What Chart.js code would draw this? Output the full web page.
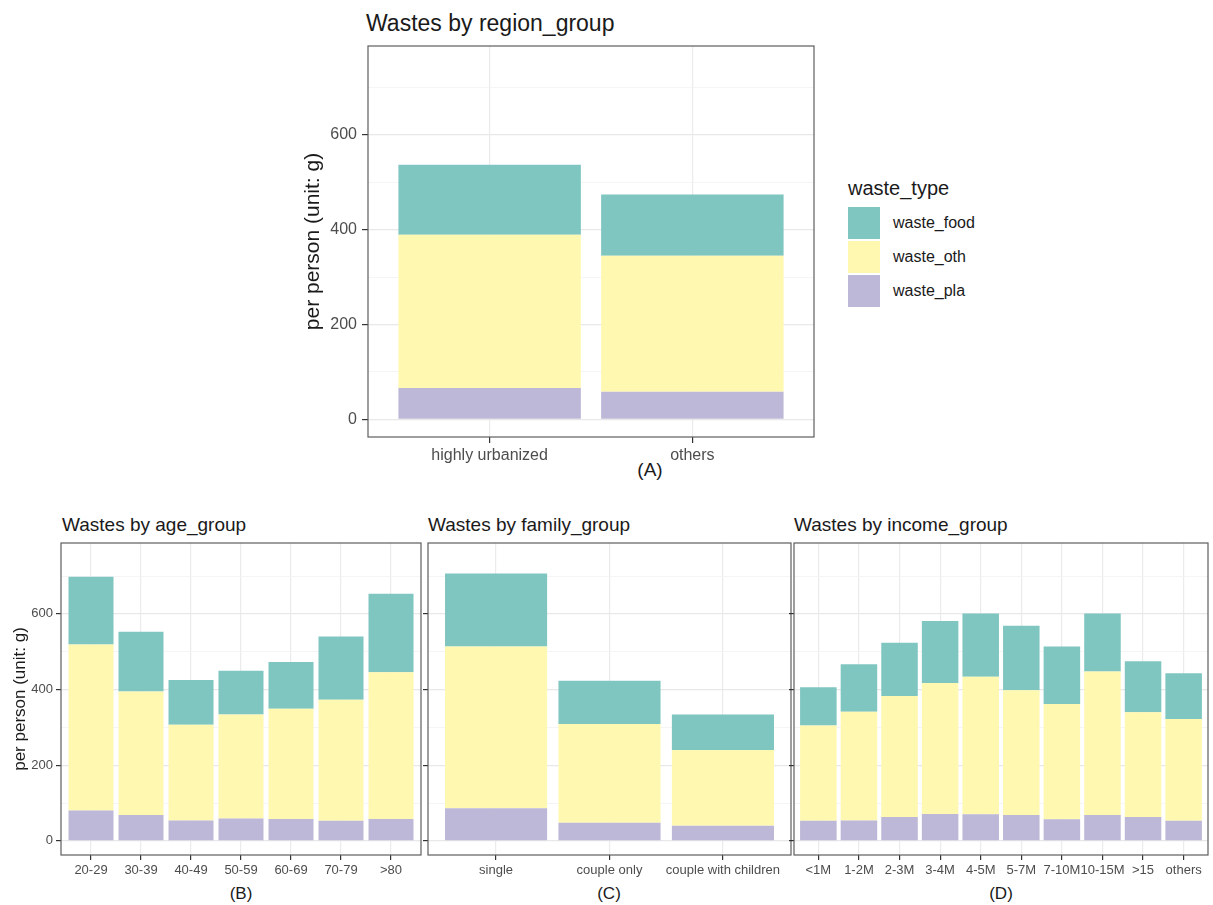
<!DOCTYPE html>
<html>
<head>
<meta charset="utf-8">
<title>Wastes by group</title>
<script src="https://cdn.jsdelivr.net/npm/chart.js@4.4.1/dist/chart.umd.min.js"></script>
<style>
  body { margin: 0; width: 1213px; height: 905px; background: #fff; position: relative; overflow: hidden;
         font-family: "Liberation Sans", Arial, sans-serif; color: #1a1a1a; }
  canvas { position: absolute; }
  .txt { position: absolute; line-height: 1; white-space: nowrap; transform: translateY(-50%); }
  .ctr { transform: translate(-50%, -50%); }
  .key { position: absolute; left: 848px; width: 32px; height: 32px; }
</style>
</head>
<body>
  <!-- titles -->
  <div class="txt" style="left:366px; top:23px; font-size:23px">Wastes by region_group</div>
  <div class="txt" style="left:62px; top:524px; font-size:19px">Wastes by age_group</div>
  <div class="txt" style="left:428px; top:524px; font-size:19px">Wastes by family_group</div>
  <div class="txt" style="left:794px; top:524px; font-size:19px">Wastes by income_group</div>

  <!-- panel letters -->
  <div class="txt ctr" style="left:650px; top:469px; font-size:19px">(A)</div>
  <div class="txt ctr" style="left:241px; top:893px; font-size:17px">(B)</div>
  <div class="txt ctr" style="left:609px; top:893px; font-size:17px">(C)</div>
  <div class="txt ctr" style="left:1001px; top:893px; font-size:17px">(D)</div>

  <!-- legend -->
  <div class="txt" style="left:848px; top:188px; font-size:20px">waste_type</div>
  <div class="key" id="keyFood" style="top:207px"></div>
  <div class="key" id="keyOth" style="top:241px"></div>
  <div class="key" id="keyPla" style="top:275px"></div>
  <div class="txt" style="left:893px; top:223px; font-size:16px">waste_food</div>
  <div class="txt" style="left:893px; top:257px; font-size:16px">waste_oth</div>
  <div class="txt" style="left:893px; top:291px; font-size:16px">waste_pla</div>

  <canvas id="chartA" style="left:290px; top:40px" width="540" height="440"></canvas>
  <canvas id="chartB" style="left:0px; top:536px" width="430" height="369"></canvas>
  <canvas id="chartC" style="left:420px; top:536px" width="380" height="369"></canvas>
  <canvas id="chartD" style="left:786px; top:536px" width="427" height="369"></canvas>

<script>
  // data (g per person)
  const regionGroups = ["highly urbanized", "others"];
  const regionPla  = [66, 58];
  const regionOth  = [323, 287];
  const regionFood = [148, 129];

  const ageGroups = ["20-29", "30-39", "40-49", "50-59", "60-69", "70-79", ">80"];
  const agePla  = [80, 68, 54, 59, 58, 53, 58];
  const ageOth  = [439, 327, 253, 275, 291, 320, 388];
  const ageFood = [179, 158, 118, 116, 124, 167, 207];

  const familyGroups = ["single", "couple only", "couple with children"];
  const familyPla  = [86, 48, 40];
  const familyOth  = [428, 261, 200];
  const familyFood = [193, 114, 94];

  const incomeGroups = ["<1M", "1-2M", "2-3M", "3-4M", "4-5M", "5-7M", "7-10M", "10-15M", ">15", "others"];
  const incomePla  = [53, 54, 63, 71, 70, 68, 57, 68, 63, 53];
  const incomeOth  = [252, 287, 320, 346, 364, 330, 305, 380, 277, 269];
  const incomeFood = [101, 126, 141, 164, 167, 171, 152, 153, 135, 121];

  const yTicks = [0, 100, 200, 300, 400, 500, 600, 700];
  const yMin = -37.5, yMax = 787.5;

  const colFood = "#7fc6c1";
  const colOth  = "#fff8b1";
  const colPla  = "#bdb8d7";

  document.getElementById("keyFood").style.background = colFood;
  document.getElementById("keyOth").style.background = colOth;
  document.getElementById("keyPla").style.background = colPla;

  const FONT = "'Liberation Sans', Arial, sans-serif";

  // ggplot-like panel border
  const panelBorder = {
    id: "panelBorder",
    afterDraw(chart) {
      const a = chart.chartArea, ctx = chart.ctx;
      ctx.save();
      ctx.strokeStyle = "#5e5e5e";
      ctx.lineWidth = 1.2;
      ctx.strokeRect(a.left, a.top, a.right - a.left, a.bottom - a.top);
      ctx.restore();
    }
  };

  function toXY(vals) {
    return vals.map((v, i) => ({ x: i, y: v }));
  }

  function makeChart(id, cats, pla, oth, food, g) {
    return new Chart(document.getElementById(id), {
      type: "bar",
      data: {
        datasets: [
          { label: "waste_pla",  data: toXY(pla),  backgroundColor: colPla,  borderWidth: 0 },
          { label: "waste_oth",  data: toXY(oth),  backgroundColor: colOth,  borderWidth: 0 },
          { label: "waste_food", data: toXY(food), backgroundColor: colFood, borderWidth: 0 }
        ]
      },
      options: {
        responsive: false,
        animation: false,
        layout: { autoPadding: false, padding: { top: g.padTop, right: g.padRight, left: 0, bottom: 0 } },
        plugins: { legend: { display: false }, tooltip: { enabled: false }, title: { display: false } },
        datasets: { bar: { barPercentage: 1, categoryPercentage: 0.9 } },
        scales: {
          x: {
            type: "linear",
            stacked: true,
            min: -0.6,
            max: cats.length - 0.4,
            offset: false,
            afterBuildTicks: s => { s.ticks = cats.map((c, i) => ({ value: i })); },
            afterFit: s => { s.height = g.xHeight; s.paddingLeft = 0; s.paddingRight = 0; },
            ticks: {
              autoSkip: false, maxRotation: 0, minRotation: 0,
              color: "#4d4d4d", padding: g.xPad,
              font: { family: FONT, size: g.tickFont },
              callback: v => cats[v]
            },
            grid: { offset: false, color: "#ebebeb", lineWidth: 1.2, tickLength: g.tick, tickColor: "#333", tickWidth: 1.2 },
            border: { display: false }
          },
          y: {
            stacked: true,
            min: yMin,
            max: yMax,
            afterBuildTicks: s => { s.ticks = yTicks.map(v => ({ value: v })); },
            afterFit: s => { s.width = g.yWidth; s.paddingTop = 0; s.paddingBottom = 0; },
            ticks: {
              display: g.yLabels,
              color: "#4d4d4d", padding: g.yPad,
              font: { family: FONT, size: g.tickFont },
              callback: v => (v % 200 === 0 ? v : "")
            },
            grid: {
              color: c => (c.tick && c.tick.value % 200 === 0 ? "#e8e8e8" : "#f3f3f3"),
              lineWidth: c => (c.tick && c.tick.value % 200 === 0 ? 1.2 : 0.8),
              tickLength: g.tick,
              tickColor: c => (c.tick && c.tick.value % 200 === 0 ? "#333" : "rgba(0,0,0,0)"),
              tickWidth: 1.2
            },
            border: { display: false },
            title: {
              display: g.yLabels,
              text: "per person (unit: g)",
              color: "#1a1a1a",
              font: { family: FONT, size: g.titleFont },
              padding: { top: g.titlePad, bottom: 0 }
            }
          }
        }
      },
      plugins: [panelBorder]
    });
  }

  // chart areas: A 368-814 x 46-437, B 61-421, C 428-791, D 794-1208 x 543-855
  makeChart("chartA", regionGroups, regionPla, regionOth, regionFood,
    { yWidth: 78, xHeight: 43, padTop: 6, padRight: 16, tick: 6, xPad: 3, yPad: 5,
      tickFont: 16, titleFont: 21, titlePad: 11, yLabels: true });
  makeChart("chartB", ageGroups, agePla, ageOth, ageFood,
    { yWidth: 61, xHeight: 50, padTop: 7, padRight: 9, tick: 5, xPad: 3, yPad: 3,
      tickFont: 13, titleFont: 17, titlePad: 10, yLabels: true });
  makeChart("chartC", familyGroups, familyPla, familyOth, familyFood,
    { yWidth: 8, xHeight: 50, padTop: 7, padRight: 9, tick: 5, xPad: 3, yPad: 3,
      tickFont: 13, titleFont: 17, titlePad: 10, yLabels: false });
  makeChart("chartD", incomeGroups, incomePla, incomeOth, incomeFood,
    { yWidth: 8, xHeight: 50, padTop: 7, padRight: 5, tick: 5, xPad: 3, yPad: 3,
      tickFont: 13, titleFont: 17, titlePad: 10, yLabels: false });
</script>
</body>
</html>
